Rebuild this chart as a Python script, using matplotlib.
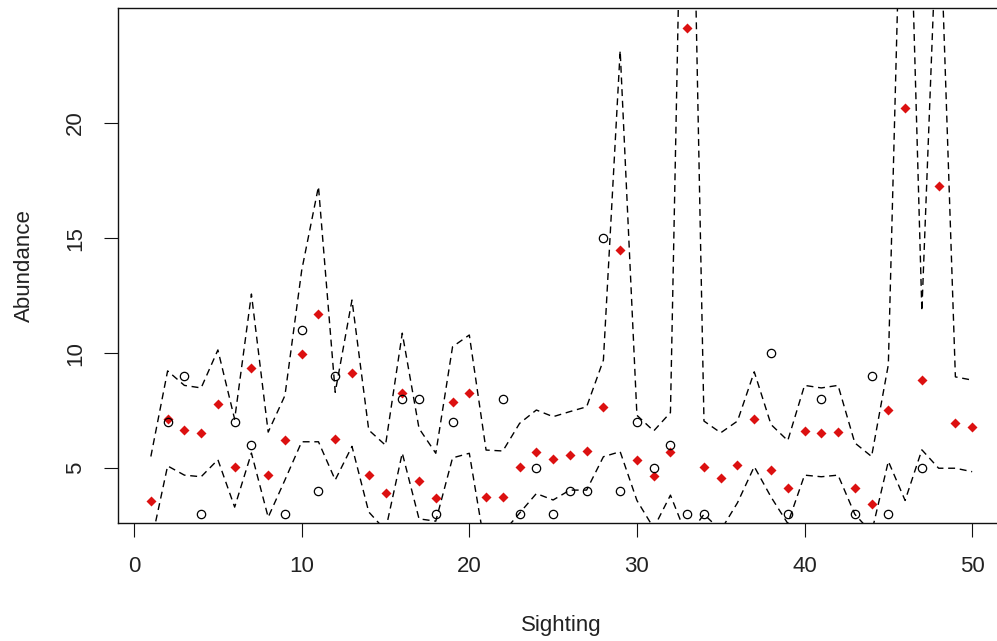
import matplotlib
import numpy as np
import matplotlib.pyplot as plt

matplotlib.use("Agg", force=True)

plt.rcParams["font.family"] = ["Liberation Sans", "DejaVu Sans"]

nan = np.nan

sighting = np.arange(1, 51)

# observed abundance (open circles); nan = not visible in the plotted range
observed = [
    nan, 7, 9, 3, nan, 7, 6, nan, 3, 11,
    4, 9, nan, nan, nan, 8, 8, 3, 7, nan,
    nan, 8, 3, 5, 3, 4, 4, 15, 4, 7,
    5, 6, 3, 3, nan, nan, nan, 10, 3, nan,
    8, nan, 3, 9, 3, nan, 5, nan, nan, nan,
]

# predicted abundance (red diamonds)
predicted = [
    3.56, 7.16, 6.67, 6.54, 7.80, 5.06, 9.35, 4.70, 6.23, 9.98,
    11.70, 6.25, 9.14, 4.69, 3.93, 8.29, 4.44, 3.70, 7.87, 8.26,
    3.75, 3.75, 5.07, 5.72, 5.40, 5.59, 5.76, 7.67, 14.47, 5.37,
    4.66, 5.69, 24.15, 5.04, 4.57, 5.15, 7.16, 4.93, 4.12, 6.63,
    6.54, 6.59, 4.12, 3.43, 7.53, 20.64, 8.85, 17.27, 6.98, 6.81,
]

upper = [
    5.51, 9.23, 8.60, 8.49, 10.14, 7.13, 12.57, 6.57, 8.16, 13.60,
    17.24, 8.30, 12.31, 6.66, 6.00, 10.87, 6.73, 5.65, 10.28, 10.79,
    5.79, 5.75, 6.95, 7.53, 7.24, 7.46, 7.67, 9.70, 23.15, 7.30,
    6.62, 7.42, 45.0, 7.05, 6.54, 7.05, 9.19, 6.90, 6.20, 8.60,
    8.49, 8.60, 6.10, 5.51, 9.50, 38.0, 11.83, 31.0, 8.97, 8.83,
]

lower = [
    1.70, 5.10, 4.70, 4.63, 5.37, 3.31, 5.66, 2.87, 4.49, 6.15,
    6.15, 4.49, 5.95, 3.10, 2.30, 5.66, 2.80, 2.70, 5.45, 5.65,
    1.30, 2.20, 3.05, 3.90, 3.62, 4.05, 4.05, 5.50, 5.72, 3.60,
    2.40, 3.83, 2.00, 3.00, 2.30, 3.50, 5.07, 3.75, 2.60, 4.70,
    4.63, 4.70, 3.00, 2.20, 5.30, 3.60, 5.80, 5.00, 5.00, 4.85,
]

x_ticks = [0, 10, 20, 30, 40, 50]
y_ticks = [5, 10, 15, 20]

W, H = 997, 641
fig = plt.figure(figsize=(W / 100, H / 100), dpi=100)
# plot region in pixels: left 118, right 1005 (cut off), top 8, bottom 523
ax = fig.add_axes([118 / W, (H - 523) / H, (1005 - 118) / W, (523 - 8) / H])

dash = (5.0, 3.4)
ax.plot(sighting, upper, color="black", lw=1.0, linestyle=(0, dash))
ax.plot(sighting, lower, color="black", lw=1.0, linestyle=(0, dash))
ax.plot(sighting, predicted, linestyle="none", marker="D", ms=4.7,
        mec="none", color="#dc1010")
ax.plot(sighting, observed, linestyle="none", marker="o", ms=6.0,
        mfc="none", mec="black", mew=0.9)

ax.set_xlim(-0.96, 51.96)
ax.set_ylim(2.62, 25.0)
ax.set_xticks(x_ticks)
ax.set_yticks(y_ticks)

for side in ["left", "bottom", "top", "right"]:
    ax.spines[side].set_linewidth(1.0)
    ax.spines[side].set_color("#111111")

ax.tick_params(axis="both", direction="out", length=9.8, width=0.8,
               colors="#111111", labelsize=16, labelcolor="#222222")
ax.tick_params(axis="x", pad=14)
ax.tick_params(axis="y", pad=13)
for label in ax.get_yticklabels():
    label.set_rotation(90)
    label.set_va("center")

ax.set_xlabel("Sighting", fontsize=16, color="#222222")
ax.set_ylabel("Abundance", fontsize=16, color="#222222")
ax.xaxis.set_label_coords(0.5, (523 - 625) / 515)
ax.xaxis.label.set_va("center")
ax.yaxis.set_label_coords((24 - 118) / 887, 0.5)
ax.yaxis.label.set_va("center")

fig.savefig("out.png", dpi=100)
